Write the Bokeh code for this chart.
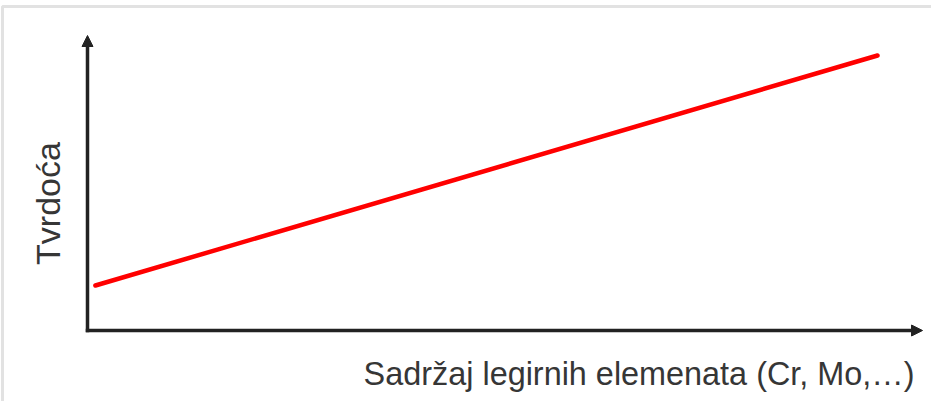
import math
from bokeh.plotting import figure
from bokeh.models import Arrow, NormalHead, Label, BoxAnnotation, Range1d
from bokeh.embed import file_html
from bokeh.resources import INLINE

# Data (schematic: hardness rises linearly with alloying content)
alloy_content = [0.1, 10.0]
hardness = [1.8, 11.0]

x_label = "Sadržaj legirnih elemenata (Cr, Mo,…)"
y_label = "Tvrdoća"

W, H = 931, 401

p = figure(width=W, height=H, output_backend="svg", toolbar_location=None,
           x_range=Range1d(-1.1013, 10.6835), y_range=Range1d(-2.84, 13.2),
           min_border=0, min_border_left=0, min_border_right=0,
           min_border_top=0, min_border_bottom=0)
p.axis.visible = False
p.grid.visible = False
p.outline_line_color = None
p.background_fill_color = "white"
p.border_fill_color = "white"

# gray picture frame (left & top edges visible)
p.add_layout(BoxAnnotation(left=-1.076, top=12.96, right=30, bottom=-30,
                           fill_alpha=0, line_color="#a0a0a0", line_width=3))

axis_color = "#222222"
# x axis with arrow
p.add_layout(Arrow(x_start=-0.022, y_start=0, x_end=10.57, y_end=0,
                   line_color=axis_color, line_width=3.5,
                   end=NormalHead(size=11, fill_color=axis_color, line_color=axis_color)))
# y axis with arrow
p.add_layout(Arrow(x_start=0, y_start=-0.07, x_end=0, y_end=11.8,
                   line_color=axis_color, line_width=3.5,
                   end=NormalHead(size=11, fill_color=axis_color, line_color=axis_color)))

p.line(alloy_content, hardness, line_color="#ff0000", line_width=4.5, line_cap="round")

p.add_layout(Label(x=10.468, y=-1.72, text=x_label, text_align="right",
                   text_baseline="middle", text_font="Liberation Sans",
                   text_font_size="32.4px", text_color="#363636"))
p.add_layout(Label(x=-0.494, y=5.08, text=y_label, text_align="center",
                   text_baseline="middle", angle=math.pi / 2,
                   text_font="Liberation Sans",
                   text_font_size="34px", text_color="#363636"))

open("out.html", "w").write(file_html(p, INLINE))
